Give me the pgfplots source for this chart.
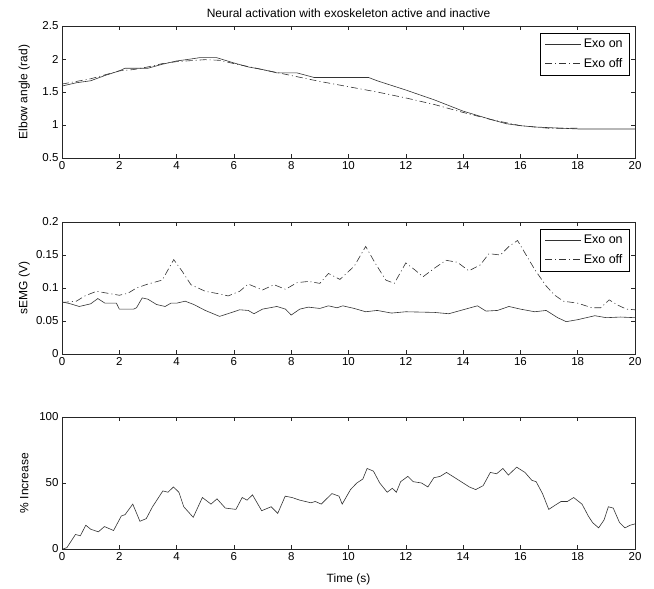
\documentclass[border=0pt]{standalone}
\usepackage{fontspec}
\setmainfont{Liberation Sans}
\usepackage{pgfplots}
\pgfplotsset{compat=1.18}

\pgfplotsset{
  panel/.style={
    width=573pt, height=132pt, scale only axis,
    xmin=0, xmax=20, xtick={0,2,...,20},
    tick align=inside,
    axis line style={black!85, line width=0.6pt},
    major tick style={black!85, line width=0.6pt},
    tick label style={font=\fontsize{11.5}{13}\selectfont},
    label style={font=\fontsize{12}{14}\selectfont},
    /pgf/number format/assume math mode=true,
    scaled y ticks=false,
    ylabel style={at={(axis description cs:-0.066,0.5)}, anchor=center},
    legend cell align=left,
    legend style={at={(1,1)}, xshift=-5pt, yshift=-7pt, anchor=north east,
      draw=black, line width=0.6pt, font=\fontsize{12.5}{14}\selectfont,
      inner xsep=5pt, inner ysep=4pt, row sep=5pt},
    legend image code/.code={\draw[#1] (0pt,0pt) -- (36pt,0pt);},
  },
  on/.style={black!80, line width=0.6pt},
  off/.style={black!80, line width=0.6pt, dash pattern=on 7pt off 3pt on 1pt off 3pt},
}

\begin{document}
\begin{tikzpicture}
\path[use as bounding box] (0pt,0pt) rectangle (654pt,589pt);

% elbow angle
\begin{axis}[panel, at={(62pt,431pt)}, anchor=south west,
  ymin=0.5, ymax=2.5, ytick={0.5,1,1.5,2,2.5},
  ylabel={Elbow angle (rad)},
  title={Neural activation with exoskeleton active and inactive},
  title style={font=\fontsize{12}{14}\selectfont, yshift=-1pt}]
\addplot[on] coordinates {
  (0,1.59) (0.5,1.64) (1,1.67) (1.5,1.75) (2,1.82) (2.2,1.86) (3,1.86)
  (3.5,1.92) (4,1.97) (4.5,2.00) (4.8,2.02) (5.4,2.02) (6,1.94) (6.5,1.88)
  (7,1.84) (7.5,1.79) (8.2,1.79) (8.8,1.72) (10.7,1.72) (11,1.67) (12,1.53)
  (13,1.38) (14,1.21) (15,1.08) (15.5,1.02) (16,0.99) (16.5,0.97) (17,0.96)
  (18,0.94) (20,0.94)
};
\addplot[off] coordinates {
  (0,1.62) (1,1.70) (2,1.82) (2.5,1.84) (3,1.88) (3.5,1.93) (4,1.96) (5,1.99)
  (5.5,1.98) (6,1.93) (7,1.84) (8,1.75) (9,1.66) (10,1.58) (11,1.50) (12,1.41)
  (13,1.31) (14,1.19) (15,1.08) (16,0.99) (17,0.95) (18,0.95)
};
\legend{Exo on, Exo off}
\end{axis}

% sEMG
\begin{axis}[panel, at={(62pt,235pt)}, anchor=south west,
  ymin=0, ymax=0.2, ytick={0,0.05,0.1,0.15,0.2},
  yticklabel style={/pgf/number format/fixed, /pgf/number format/precision=2},
  ylabel={sEMG (V)}]
\addplot[on] coordinates {
  (0,0.079) (0.3,0.076) (0.6,0.072) (1.0,0.076) (1.25,0.084) (1.5,0.077)
  (1.9,0.077) (2.0,0.068) (2.5,0.068) (2.6,0.070) (2.8,0.085) (3.0,0.083)
  (3.3,0.075) (3.6,0.072) (3.8,0.077) (4.0,0.077) (4.3,0.080) (4.6,0.075)
  (5.0,0.066) (5.5,0.057) (6.0,0.064) (6.2,0.067) (6.5,0.066) (6.7,0.061)
  (7.0,0.068) (7.5,0.072) (7.8,0.068) (8.0,0.059) (8.3,0.068) (8.6,0.071)
  (9.0,0.069) (9.3,0.073) (9.6,0.070) (9.8,0.073) (10.2,0.069) (10.6,0.064)
  (11.0,0.066) (11.5,0.062) (12,0.064) (13,0.063) (13.5,0.061) (14,0.067)
  (14.5,0.073) (14.8,0.065) (15.2,0.066) (15.6,0.072) (16,0.068) (16.5,0.064)
  (16.9,0.066) (17.3,0.055) (17.6,0.049) (18,0.052) (18.6,0.058) (19,0.055)
  (19.5,0.056) (20,0.055)
};
\addplot[off] coordinates {
  (0,0.078) (0.5,0.080) (0.8,0.088) (1.2,0.095) (1.6,0.092) (2.0,0.089)
  (2.3,0.092) (2.6,0.100) (3.0,0.106) (3.5,0.112) (3.9,0.143) (4.2,0.125)
  (4.5,0.105) (5.0,0.095) (5.5,0.091) (5.8,0.088) (6.2,0.095) (6.5,0.106)
  (7.0,0.097) (7.4,0.105) (7.8,0.098) (8.2,0.108) (8.6,0.110) (9.0,0.107)
  (9.3,0.122) (9.7,0.113) (10.2,0.133) (10.6,0.163) (10.9,0.140) (11.3,0.112)
  (11.6,0.107) (12.0,0.138) (12.3,0.128) (12.6,0.117) (13.0,0.130) (13.4,0.142)
  (13.8,0.139) (14.2,0.126) (14.6,0.135) (14.9,0.152) (15.3,0.150) (15.6,0.163)
  (15.9,0.172) (16.2,0.150) (16.5,0.128) (16.9,0.103) (17.2,0.089) (17.5,0.080)
  (18.0,0.077) (18.5,0.070) (18.8,0.070) (19.1,0.082) (19.4,0.074) (19.7,0.068)
  (20,0.067)
};
\legend{Exo on, Exo off}
\end{axis}

% percent increase
\begin{axis}[panel, at={(62pt,40pt)}, anchor=south west,
  ymin=0, ymax=100, ytick={0,50,100},
  ylabel={\% Increase},
  xlabel={Time (s)},
  xlabel style={at={(axis description cs:0.5,-0.227)}, anchor=center}]
\addplot[on] coordinates {
  (0.03,0) (0.17,1) (0.47,11) (0.64,10) (0.83,18) (1.0,15) (1.27,13) (1.48,17)
  (1.8,14) (2.07,25) (2.2,26) (2.47,34) (2.72,21) (2.94,23) (3.16,32) (3.52,44)
  (3.7,43) (3.89,47) (4.08,43) (4.25,32) (4.58,24) (4.9,39) (5.2,34) (5.41,38)
  (5.7,31) (6.07,30) (6.29,39) (6.46,37) (6.65,41) (6.97,29) (7.3,32) (7.53,27)
  (7.79,40) (8.03,39) (8.3,37) (8.69,35) (8.84,36) (9.05,34) (9.42,42) (9.67,40)
  (9.78,34) (10.07,45) (10.29,50) (10.5,53) (10.65,61) (10.87,59) (11.09,50)
  (11.35,43) (11.53,46) (11.67,43) (11.82,51) (12.07,55) (12.26,51) (12.55,50)
  (12.77,47) (12.98,54) (13.2,55) (13.42,58) (13.64,55) (13.93,51) (14.22,47)
  (14.44,45) (14.7,48) (14.95,58) (15.17,57) (15.39,61) (15.58,56) (15.87,62)
  (16.16,58) (16.4,52) (16.55,51) (16.77,42) (16.99,30) (17.2,33) (17.42,36)
  (17.64,36) (17.86,39) (18.15,34) (18.37,25) (18.52,20) (18.73,16) (18.92,22)
  (19.07,32) (19.24,31) (19.46,20) (19.65,16) (19.83,18) (20,19)
};
\end{axis}
\end{tikzpicture}
\end{document}
